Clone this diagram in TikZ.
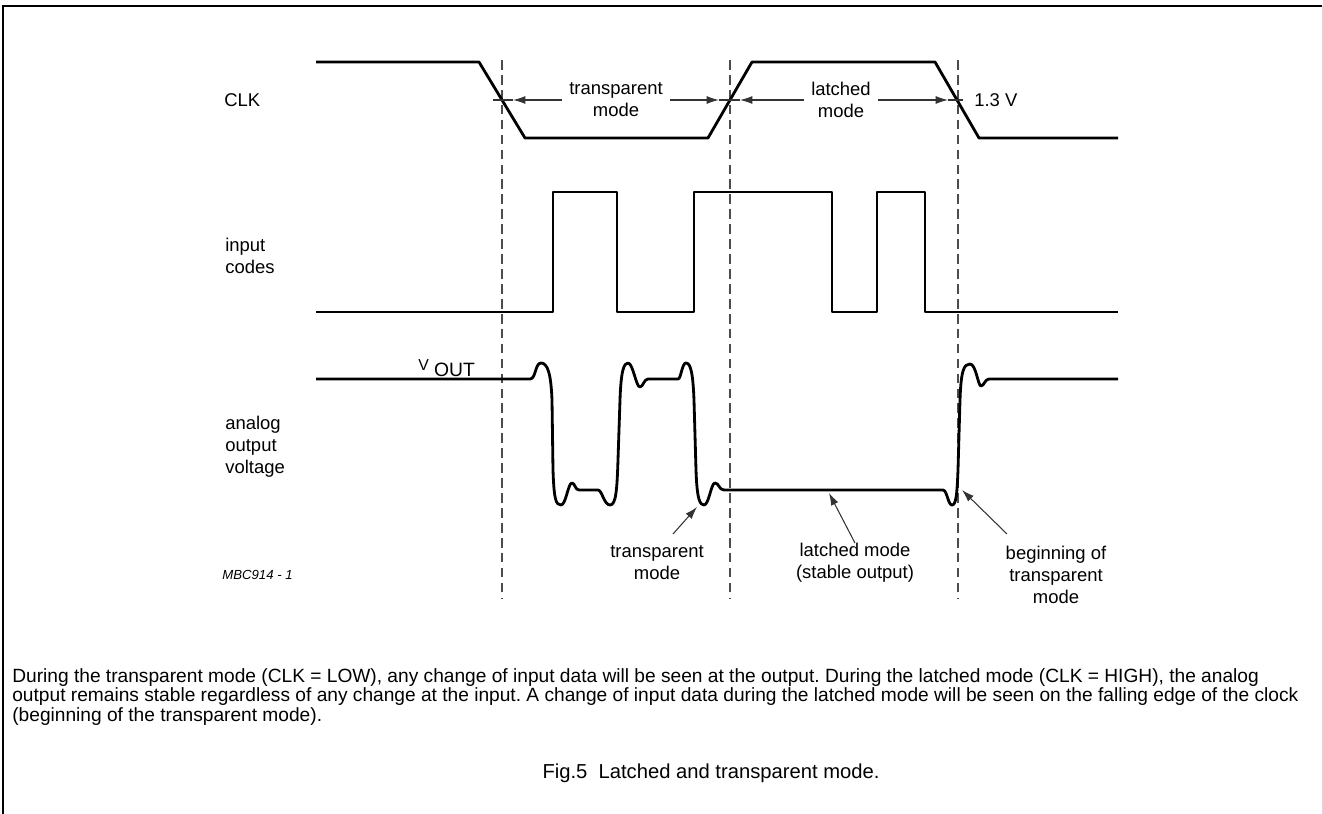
\documentclass[tikz,border=0pt]{standalone}
\usepackage{fontspec}
\setmainfont{Liberation Sans}
\usetikzlibrary{arrows.meta}
\frenchspacing

\begin{document}
\begin{tikzpicture}[x=0.02cm,y=0.02cm]
    \tikzstyle{every node}+=[inner sep=0pt, font=\fontsize{10.5}{12.5}\selectfont]
    \tikzstyle{wave}=[black, line width=1.6pt, line join=round]
    \tikzstyle{guide}=[black!70, line width=0.6pt, dash pattern=on 5.5pt off 3pt]
    \tikzstyle{dim}=[black!80, line width=0.6pt]
    \tikzstyle{tip}=[-{Latex[length=7pt,width=4.5pt]}]
    \tikzstyle{dimlabel}=[align=center, inner xsep=4pt]
    \useasboundingbox (0,0) rectangle (1323,-814);
    \draw [black, line width=1.1pt] (3,-814) -- (3,-6) -- (1322,-6);
    \draw [black!15] (1322,-6) -- (1322,-814);
    \draw (224,-100) node [anchor=west] (clk) {CLK};
    \draw (225,-256) node [anchor=west, align=left] (codes) {input\\codes};
    \draw (225,-447) node [anchor=west, align=left] (analog) {analog\\output\\voltage};
    \draw (418,-368) node [anchor=west] (vout) {\raisebox{0.6ex}{\fontsize{9}{9}\selectfont V}\hspace{3pt}{\fontsize{11}{11}\selectfont OUT}};
    \draw (222,-575) node [anchor=west, font=\fontsize{7.5}{8}\selectfont\itshape] (mbc) {MBC914 - 1};
    \draw [guide] (502,-60) -- (502,-598);
    \draw [guide] (730,-60) -- (730,-598);
    \draw [guide] (958,-60) -- (958,-598);
    \draw [wave] (316,-62) -- (479,-62) -- (525,-138) -- (708,-138) -- (752,-62) -- (935,-62) -- (979,-138) -- (1118,-138);
    \draw [wave] (316,-312) -- (553,-312) -- (553,-192) -- (617,-192) -- (617,-312) -- (694,-312) -- (694,-192) -- (832,-192) -- (832,-312) -- (877,-312) -- (877,-192) -- (925,-192) -- (925,-312) -- (1118,-312);
    \draw [wave] (316,-379) -- (530,-379) .. controls (536,-379) and (535,-363) .. (541,-363)
        .. controls (548,-363) and (551,-375) .. (552,-400) -- (553,-470)
        .. controls (554,-500) and (556,-505) .. (561,-505) .. controls (566,-505) and (568,-483) .. (572,-483)
        .. controls (575,-483) and (575,-490) .. (579,-490) -- (598,-490)
        .. controls (602,-490) and (604,-505) .. (610,-505) .. controls (616,-505) and (617,-490) .. (618,-460)
        -- (620,-400) .. controls (621,-370) and (624,-363) .. (628,-363)
        .. controls (633,-363) and (636,-387) .. (640,-387) .. controls (643,-387) and (644,-379) .. (648,-379)
        -- (678,-379) .. controls (681,-379) and (682,-363) .. (686,-363)
        .. controls (691,-363) and (693,-375) .. (694,-400) -- (696,-470)
        .. controls (697,-500) and (700,-505) .. (704,-505) .. controls (709,-505) and (711,-483) .. (715,-483)
        .. controls (719,-483) and (719,-490) .. (724,-490) -- (943,-490)
        .. controls (947,-490) and (948,-505) .. (952,-505) .. controls (956,-505) and (957,-495) .. (958,-470)
        -- (960,-400) .. controls (961,-370) and (964,-364) .. (970,-364)
        .. controls (976,-364) and (978,-386) .. (981,-386) .. controls (984,-386) and (985,-379) .. (989,-379)
        -- (1118,-379);
    \draw (616,-100) node [dimlabel] (tmode) {transparent\\mode};
    \draw (841,-100) node [dimlabel] (lmode) {latched\\mode};
    \draw (974,-100) node [anchor=west] (thr) {1.3 V};
    \coordinate (d1) at (513,-100);
    \coordinate (d2) at (719,-100);
    \coordinate (d3) at (740,-100);
    \coordinate (d4) at (948,-100);
    \draw [dim, tip] (tmode.west) -- (d1);
    \draw [dim] (d1) -- (493,-100);
    \draw [dim, tip] (tmode.east) -- (d2);
    \draw [dim] (d2) -- (d3);
    \draw [dim, tip] (lmode.west) -- (d3);
    \draw [dim, tip] (lmode.east) -- (d4);
    \draw [dim] (d4) -- ([xshift=-6pt]thr.west);
    \draw (657,-563) node [align=center] (trout) {transparent\\mode};
    \draw (855,-563) node [align=center] (latout) {latched mode\\(stable output)};
    \draw (1056,-575) node [align=center] (begout) {beginning of\\transparent\\mode};
    \coordinate (a1) at (697,-507);
    \coordinate (a2) at (829,-493);
    \coordinate (a3) at (962,-490);
    \draw [dim, tip] (673,-534) -- (a1);
    \draw [dim, tip] (latout.north) -- (a2);
    \draw [dim, tip] (1007,-534) -- (a3);
    \draw (12,-721) node [anchor=base west, align=left, font=\fontsize{10.9}{11}\selectfont] (note) {During the transparent mode (CLK = LOW), any change of input data will be seen at the output. During the latched mode (CLK = HIGH), the analog\\output remains stable regardless of any change at the input. A change of input data during the latched mode will be seen on the falling edge of the clock\\(beginning of the transparent mode).};
    \draw (711,-778) node [anchor=base] (fig) {\fontsize{11.5}{14}\selectfont Fig.5\ \ Latched and transparent mode.};
\end{tikzpicture}
\end{document}
